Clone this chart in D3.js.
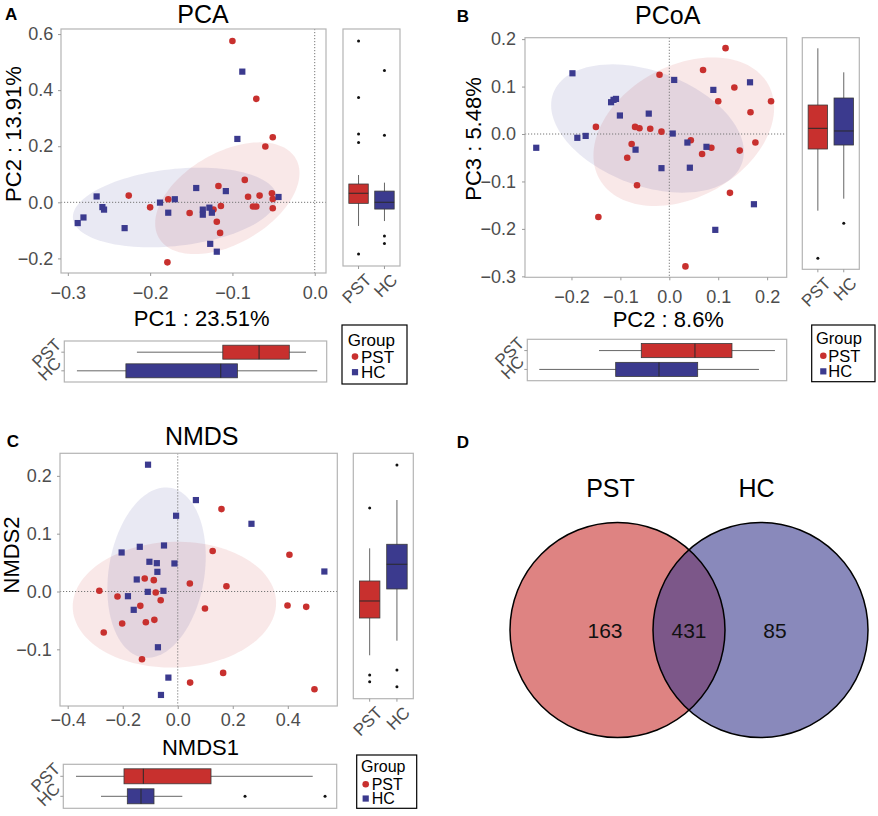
<!DOCTYPE html>
<html><head><meta charset="utf-8">
<script src="https://cdn.jsdelivr.net/npm/d3@7"></script>
<style>
body{margin:0;background:#fff}
svg{display:block}
text{font-family:"Liberation Sans",Arial,Helvetica,sans-serif}
</style>
</head><body>
<svg id="c" width="878" height="816"></svg>
<script>
// ---------------- DATA ----------------
const groups = ["PST", "HC"];

// Panel A: PCA scores [PC1, PC2]
const pcaPST = [[-0.100,0.575],[-0.071,0.369],[-0.051,0.232],[-0.060,0.199],[-0.085,0.080],[-0.117,0.058],
  [-0.226,0.024],[-0.067,0.024],[-0.052,0.032],[-0.081,0.020],[-0.051,0.012],[-0.178,0.011],[-0.200,-0.018],
  [-0.152,-0.038],[-0.123,-0.026],[-0.114,-0.013],[-0.075,-0.015],[-0.071,-0.015],[-0.051,-0.021],
  [-0.119,-0.069],[-0.115,-0.109],[-0.179,-0.214]];
const pcaHC = [[-0.088,0.466],[-0.094,0.226],[-0.144,0.051],[-0.108,0.040],[-0.265,0.021],[-0.044,0.019],
  [-0.170,0.011],[-0.188,-0.001],[-0.258,-0.017],[-0.256,-0.026],[-0.178,-0.037],[-0.136,-0.026],
  [-0.128,-0.019],[-0.136,-0.044],[-0.125,-0.037],[-0.281,-0.054],[-0.288,-0.074],[-0.231,-0.092],
  [-0.127,-0.148],[-0.119,-0.176]];
// ellipse: [centerX, centerY, sdX, sdY, correlation]
const pcaEllPST = [-0.1062, 0.0146, 0.0877, 0.1993, 0.45];
const pcaEllHC  = [-0.170, -0.0184, 0.1239, 0.142, 0.24];
// box stats: [whiskerLow, Q1, median, Q3, whiskerHigh]
const pcaBoxYPST = [-0.105, -0.022, 0.015, 0.049, 0.082];
const pcaOutYPST = [0.574, 0.367, 0.233, 0.201, -0.208];
const pcaBoxYHC  = [-0.087, -0.043, -0.018, 0.023, 0.054];
const pcaOutYHC  = [0.466, 0.228, -0.142, -0.169];
const pcaBoxXPST = [-0.2192, -0.1138, -0.0693, -0.0322, -0.0117];
const pcaOutXPST = [];
const pcaBoxXHC  = [-0.2928, -0.2327, -0.1163, -0.0959, 0.0021];
const pcaOutXHC  = [];

// Panel B: PCoA scores [PC2, PC3]
const pcoaPST = [[0.115,0.181],[0.069,0.135],[-0.020,0.125],[0.133,0.098],[0.100,0.069],[0.208,0.069],
  [0.166,0.046],[-0.150,0.015],[-0.070,0.015],[-0.061,0.012],[-0.039,0.011],[-0.016,0.005],[0.044,-0.013],
  [0.176,-0.018],[-0.077,-0.021],[0.086,-0.029],[0.144,-0.035],[0.067,-0.042],[-0.086,-0.050],
  [-0.066,-0.108],[0.124,-0.124],[-0.145,-0.175],[0.033,-0.279]];
const pcoaHC = [[-0.198,0.128],[-0.119,0.067],[-0.114,0.072],[-0.109,0.074],[0.010,0.114],[0.165,0.109],
  [0.090,0.093],[-0.101,0.039],[-0.042,0.043],[-0.171,-0.004],[-0.188,-0.008],[-0.272,-0.029],
  [0.007,0.001],[0.037,-0.018],[0.076,-0.027],[-0.069,-0.033],[-0.016,-0.072],[0.042,-0.071],
  [0.173,-0.148],[0.094,-0.202]];
const pcoaEllPST = [0.0296, 0.0049, 0.1847, 0.1566, 0.32];
const pcoaEllHC  = [-0.0446, 0.0116, 0.197, 0.1352, -0.365];
const pcoaBoxYPST = [-0.1742, -0.0397, 0.0054, 0.0562, 0.1799];
const pcoaOutYPST = [-0.278];
const pcoaBoxYHC  = [-0.148, -0.031, -0.0004, 0.0715, 0.1275];
const pcoaOutYHC  = [-0.2017];
const pcoaBoxXPST = [-0.1471, -0.0599, 0.0508, 0.1271, 0.2158];
const pcoaOutXPST = [];
const pcoaBoxXHC  = [-0.2703, -0.1127, -0.0234, 0.0564, 0.1828];
const pcoaOutXHC  = [];

// Panel C: NMDS scores [NMDS1, NMDS2]
const nmdsPST = [[0.159,0.1425],[0.127,0.070],[0.406,0.0635],[0.044,0.0138],[0.177,0.0092],[-0.285,0.0012],
  [-0.120,0.0225],[-0.087,0.0196],[-0.219,-0.0087],[-0.080,-0.0017],[-0.062,-0.015],[-0.136,-0.0248],
  [0.099,-0.0294],[0.399,-0.0242],[0.467,-0.0265],[-0.202,-0.0554],[-0.116,-0.0531],[-0.085,-0.049],
  [-0.269,-0.071],[-0.130,-0.1171],[0.165,-0.1408],[0.045,-0.1575],[0.497,-0.169]];
const nmdsHC = [[-0.108,0.2193],[0.066,0.1581],[-0.006,0.131],[0.268,0.1171],[-0.050,0.0796],[-0.138,0.0773],
  [-0.204,0.0675],[-0.103,0.0514],[-0.076,0.049],[-0.012,0.0485],[-0.074,0.034],[0.533,0.0346],
  [-0.149,0.0208],[-0.109,-0.0006],[-0.052,0.0012],[-0.181,-0.0081],[-0.160,-0.0317],[-0.072,-0.0964],
  [-0.034,-0.1489],[-0.061,-0.1789]];
const nmdsEllPST = [-0.0121, -0.0228, 0.3697, 0.1088, 0.03];
const nmdsEllHC  = [-0.077, 0.0326, 0.1788, 0.1474, 0.19];
const nmdsBoxYPST = [-0.1207, -0.0543, -0.024, 0.0116, 0.0698];
const nmdsOutYPST = [0.1416, -0.1558, -0.1677];
const nmdsBoxYHC  = [-0.0947, -0.0026, 0.0414, 0.077, 0.1558];
const nmdsOutYHC  = [0.2182, -0.1467, -0.1766];
const nmdsBoxXPST = [-0.3812, -0.2042, -0.133, 0.1166, 0.4916];
const nmdsOutXPST = [];
const nmdsBoxXHC  = [-0.289, -0.192, -0.1415, -0.0936, 0.0108];
const nmdsOutXHC  = [0.242, 0.537];

// Panel D: Venn
const vennSets = ["PST", "HC"];
const vennCounts = [163, 431, 85]; // PST only, shared, HC only

// ---------------- STYLE / LAYOUT ----------------
const RED = "#C8302E", BLUE = "#3B3A8E";
const col = {PST: RED, HC: BLUE};
const FRAME = "#b4b4b4", TICKC = "#9a9a9a", TXT = "#4d4d4d";
const fmt = d3.format(".1f");
const svg = d3.select("#c");

const panels = [
  {letter:"A", lx:5, ly:20, title:"PCA", tx:203, ty:23,
   frame:{x0:61,x1:326,y0:29,y1:273}, xDom:[-0.3083,0.0137], yDom:[-0.252,0.618],
   xTicks:[-0.3,-0.2,-0.1,0.0], yTicks:[-0.2,0,0.2,0.4,0.6], xGap:13.4, yGap:7.7,
   xTitle:"PC1 : 23.51%", xtx:201.7, xty:326, yTitle:"PC2 : 13.91%", ytx:21, yty:134,
   side:{x0:343,x1:400,y0:29,y1:266}, bot:{x0:64.3,x1:326.7,y0:341,y1:382},
   leg:{x0:342,x1:407,y0:325,y1:384, gx:347.7, mx:355, txx:361, fs:17, by:[345.5,362.7,378.3]},
   pts:{PST:pcaPST, HC:pcaHC}, ell:{PST:pcaEllPST, HC:pcaEllHC},
   boxY:{PST:pcaBoxYPST, HC:pcaBoxYHC}, outY:{PST:pcaOutYPST, HC:pcaOutYHC},
   boxX:{PST:pcaBoxXPST, HC:pcaBoxXHC}, outX:{PST:pcaOutXPST, HC:pcaOutXHC}},
  {letter:"B", lx:456.7, ly:21.7, title:"PCoA", tx:667.7, ty:23.5,
   frame:{x0:525,x1:786.7,y0:37.7,y1:277.3}, xDom:[-0.295,0.24], yDom:[-0.302,0.203],
   xTicks:[-0.2,-0.1,0.0,0.1,0.2], yTicks:[-0.3,-0.2,-0.1,0,0.1,0.2], xGap:12.7, yGap:9,
   xTitle:"PC2 : 8.6%", xtx:668.3, xty:326.5, yTitle:"PC3 : 5.48%", ytx:481, yty:139,
   side:{x0:802.3,x1:859.3,y0:37.7,y1:269.3}, bot:{x0:527.3,x1:786.7,y0:339.3,y1:380.7},
   leg:{x0:811.7,x1:875,y0:325,y1:381.7, gx:816, mx:823.3, txx:828.3, fs:16.5, by:[344,361.7,377.3]},
   pts:{PST:pcoaPST, HC:pcoaHC}, ell:{PST:pcoaEllPST, HC:pcoaEllHC},
   boxY:{PST:pcoaBoxYPST, HC:pcoaBoxYHC}, outY:{PST:pcoaOutYPST, HC:pcoaOutYHC},
   boxX:{PST:pcoaBoxXPST, HC:pcoaBoxXHC}, outX:{PST:pcoaOutXPST, HC:pcoaOutXHC}},
  {letter:"C", lx:6.7, ly:446.7, title:"NMDS", tx:201.7, ty:445,
   frame:{x0:60,x1:337.3,y0:453.3,y1:706}, xDom:[-0.428,0.58], yDom:[-0.198,0.239],
   xTicks:[-0.4,-0.2,0.0,0.2,0.4], yTicks:[-0.1,0,0.1,0.2], xGap:6.9, yGap:8.3,
   xTitle:"NMDS1", xtx:200.5, xty:755, yTitle:"NMDS2", ytx:18.5, yty:555,
   side:{x0:353.3,x1:413.3,y0:453.3,y1:698.7}, bot:{x0:63.3,x1:336.7,y0:764.3,y1:808.3},
   leg:{x0:356.7,x1:416.7,y0:755,y1:808.3, gx:361, mx:365.7, txx:371.7, fs:16, by:[772,790,804.3]},
   pts:{PST:nmdsPST, HC:nmdsHC}, ell:{PST:nmdsEllPST, HC:nmdsEllHC},
   boxY:{PST:nmdsBoxYPST, HC:nmdsBoxYHC}, outY:{PST:nmdsOutYPST, HC:nmdsOutYHC},
   boxX:{PST:nmdsBoxXPST, HC:nmdsBoxXHC}, outX:{PST:nmdsOutXPST, HC:nmdsOutXHC}}
];

function ellipsePath(e, xs, ys) {
  const [cx, cy, sx, sy, r] = e, k = Math.sqrt(1 - r * r);
  const pts = d3.range(0, 121).map(i => {
    const t = i / 120 * 2 * Math.PI;
    return [xs(cx + sx * Math.cos(t)), ys(cy + sy * (r * Math.cos(t) + k * Math.sin(t)))];
  });
  return d3.line()(pts) + "Z";
}

function styleAxis(g, fs) {
  g.select(".domain").remove();
  g.selectAll(".tick line").attr("stroke", TICKC).attr("stroke-width", 1);
  g.selectAll(".tick text").attr("fill", TXT).attr("font-size", fs)
    .attr("font-family", '"Liberation Sans",Arial,sans-serif');
}

function drawPanel(p) {
  const g = svg.append("g");
  const f = p.frame;
  const xs = d3.scaleLinear().domain(p.xDom).range([f.x0, f.x1]);
  const ys = d3.scaleLinear().domain(p.yDom).range([f.y1, f.y0]);

  g.append("rect").attr("x", f.x0).attr("y", f.y0).attr("width", f.x1 - f.x0).attr("height", f.y1 - f.y0)
    .attr("fill", "#fff");
  // ellipses
  groups.forEach(k => {
    g.append("path").attr("d", ellipsePath(p.ell[k], xs, ys)).attr("fill", col[k]).attr("fill-opacity", 0.11);
  });
  // zero lines
  g.append("line").attr("x1", xs(0)).attr("x2", xs(0)).attr("y1", f.y0).attr("y2", f.y1)
    .attr("stroke", "#777").attr("stroke-dasharray", "1.2,1.8").attr("stroke-width", 1);
  g.append("line").attr("y1", ys(0)).attr("y2", ys(0)).attr("x1", f.x0).attr("x2", f.x1)
    .attr("stroke", "#777").attr("stroke-dasharray", "1.2,1.8").attr("stroke-width", 1);
  // points
  g.selectAll(null).data(p.pts.PST).join("circle")
    .attr("cx", d => xs(d[0])).attr("cy", d => ys(d[1])).attr("r", 3.3).attr("fill", RED);
  g.selectAll(null).data(p.pts.HC).join("rect")
    .attr("x", d => xs(d[0]) - 3.1).attr("y", d => ys(d[1]) - 3.1).attr("width", 6.2).attr("height", 6.2)
    .attr("fill", BLUE);
  // frame
  g.append("rect").attr("x", f.x0).attr("y", f.y0).attr("width", f.x1 - f.x0).attr("height", f.y1 - f.y0)
    .attr("fill", "none").attr("stroke", FRAME).attr("stroke-width", 1.2);
  // axes
  g.append("g").attr("transform", `translate(0,${f.y1})`)
    .call(d3.axisBottom(xs).tickValues(p.xTicks).tickFormat(fmt).tickSize(3).tickPadding(p.xGap - 3))
    .call(a => styleAxis(a, 18));
  g.append("g").attr("transform", `translate(${f.x0},0)`)
    .call(d3.axisLeft(ys).tickValues(p.yTicks).tickFormat(fmt).tickSize(3).tickPadding(p.yGap - 3))
    .call(a => styleAxis(a, 18));
  // titles
  g.append("text").attr("x", p.tx).attr("y", p.ty).attr("text-anchor", "middle").attr("font-size", 25)
    .attr("fill", "#000").text(p.title);
  g.append("text").attr("x", p.lx).attr("y", p.ly).attr("font-size", 17).attr("font-weight", "bold")
    .attr("fill", "#000").text(p.letter);
  g.append("text").attr("x", p.xtx).attr("y", p.xty).attr("text-anchor", "middle").attr("font-size", 22)
    .attr("fill", "#000").text(p.xTitle);
  g.append("text").attr("transform", `translate(${p.ytx},${p.yty}) rotate(-90)`).attr("text-anchor", "middle")
    .attr("font-size", 22).attr("fill", "#000").text(p.yTitle);

  // side (vertical) box plots
  const s = p.side;
  const sy = d3.scaleLinear().domain(p.yDom).range([s.y1, s.y0]);
  const sx = d3.scalePoint().domain(groups).range([s.x0, s.x1]).padding(0.6);
  const sbw = sx.step() * 0.75;
  g.append("rect").attr("x", s.x0).attr("y", s.y0).attr("width", s.x1 - s.x0).attr("height", s.y1 - s.y0)
    .attr("fill", "#fff").attr("stroke", FRAME).attr("stroke-width", 1.2);
  groups.forEach(k => {
    const [wl, q1, md, q3, wh] = p.boxY[k], c = sx(k);
    g.append("line").attr("x1", c).attr("x2", c).attr("y1", sy(wl)).attr("y2", sy(wh)).attr("stroke", "#666");
    g.append("rect").attr("x", c - sbw / 2).attr("width", sbw).attr("y", sy(q3)).attr("height", sy(q1) - sy(q3))
      .attr("fill", col[k]).attr("stroke", "#3a3a3a").attr("stroke-width", 0.8);
    g.append("line").attr("x1", c - sbw / 2).attr("x2", c + sbw / 2).attr("y1", sy(md)).attr("y2", sy(md))
      .attr("stroke", "#2a2a2a").attr("stroke-width", 1);
    g.selectAll(null).data(p.outY[k]).join("circle").attr("cx", c).attr("cy", d => sy(d)).attr("r", 1.5).attr("fill", "#111");
    g.append("line").attr("x1", c).attr("x2", c).attr("y1", s.y1).attr("y2", s.y1 + 3).attr("stroke", TICKC);
    g.append("text").attr("transform", `translate(${c + 14},${s.y1 + 15}) rotate(-45)`).attr("text-anchor", "end")
      .attr("font-size", 17).attr("fill", TXT).text(k);
  });

  // bottom (horizontal) box plots
  const b = p.bot;
  const bx = d3.scaleLinear().domain(p.xDom).range([b.x0, b.x1]);
  const by = d3.scalePoint().domain(groups).range([b.y0, b.y1]).padding(0.6);
  const bbh = by.step() * 0.75;
  g.append("rect").attr("x", b.x0).attr("y", b.y0).attr("width", b.x1 - b.x0).attr("height", b.y1 - b.y0)
    .attr("fill", "#fff").attr("stroke", FRAME).attr("stroke-width", 1.2);
  groups.forEach(k => {
    const [wl, q1, md, q3, wh] = p.boxX[k], c = by(k);
    g.append("line").attr("y1", c).attr("y2", c).attr("x1", bx(wl)).attr("x2", bx(wh)).attr("stroke", "#666");
    g.append("rect").attr("y", c - bbh / 2).attr("height", bbh).attr("x", bx(q1)).attr("width", bx(q3) - bx(q1))
      .attr("fill", col[k]).attr("stroke", "#3a3a3a").attr("stroke-width", 0.8);
    g.append("line").attr("y1", c - bbh / 2).attr("y2", c + bbh / 2).attr("x1", bx(md)).attr("x2", bx(md))
      .attr("stroke", "#2a2a2a").attr("stroke-width", 1);
    g.selectAll(null).data(p.outX[k]).join("circle").attr("cy", c).attr("cx", d => bx(d)).attr("r", 1.5).attr("fill", "#111");
    g.append("line").attr("y1", c).attr("y2", c).attr("x1", b.x0 - 3).attr("x2", b.x0).attr("stroke", TICKC);
    g.append("text").attr("transform", `translate(${b.x0 - 2},${c - 6.5}) rotate(-45)`).attr("text-anchor", "end")
      .attr("font-size", 17).attr("fill", TXT).text(k);
  });

  // legend
  const L = p.leg;
  g.append("rect").attr("x", L.x0).attr("y", L.y0).attr("width", L.x1 - L.x0).attr("height", L.y1 - L.y0)
    .attr("fill", "#fff").attr("stroke", "#000").attr("stroke-width", 1.2);
  g.append("text").attr("x", L.gx).attr("y", L.by[0]).attr("font-size", L.fs).attr("fill", "#000").text("Group");
  groups.forEach((k, i) => {
    const yb = L.by[i + 1], ym = yb - L.fs * 0.36;
    if (k === "PST") g.append("circle").attr("cx", L.mx).attr("cy", ym).attr("r", 3.3).attr("fill", RED);
    else g.append("rect").attr("x", L.mx - 3.1).attr("y", ym - 3.1).attr("width", 6.2).attr("height", 6.2).attr("fill", BLUE);
    g.append("text").attr("x", L.txx).attr("y", yb).attr("font-size", L.fs).attr("fill", "#000").text(k);
  });
}

panels.forEach(drawPanel);

// ---------------- Panel D: Venn ----------------
const venn = svg.append("g");
const vx = d3.scalePoint().domain(vennSets).range([617.5, 760.5]);
const vr = 107.5, vcy = 630;
venn.append("text").attr("x", 456.7).attr("y", 448.3).attr("font-size", 17).attr("font-weight", "bold").text("D");
vennSets.forEach(k => {
  venn.append("circle").attr("cx", vx(k)).attr("cy", vcy).attr("r", vr).attr("fill", col[k]).attr("fill-opacity", 0.6);
});
vennSets.forEach(k => {
  venn.append("circle").attr("cx", vx(k)).attr("cy", vcy).attr("r", vr).attr("fill", "none")
    .attr("stroke", "#000").attr("stroke-width", 1.5);
  venn.append("text").attr("x", vx(k) + (k === "PST" ? -7 : -4)).attr("y", 497).attr("text-anchor", "middle")
    .attr("font-size", 25).attr("fill", "#000").text(k);
});
const countX = [605, 689, 775];
vennCounts.forEach((v, i) => {
  venn.append("text").attr("x", countX[i]).attr("y", 637.5).attr("text-anchor", "middle")
    .attr("font-size", 21).attr("fill", "#111").text(v);
});
</script>
</body></html>
